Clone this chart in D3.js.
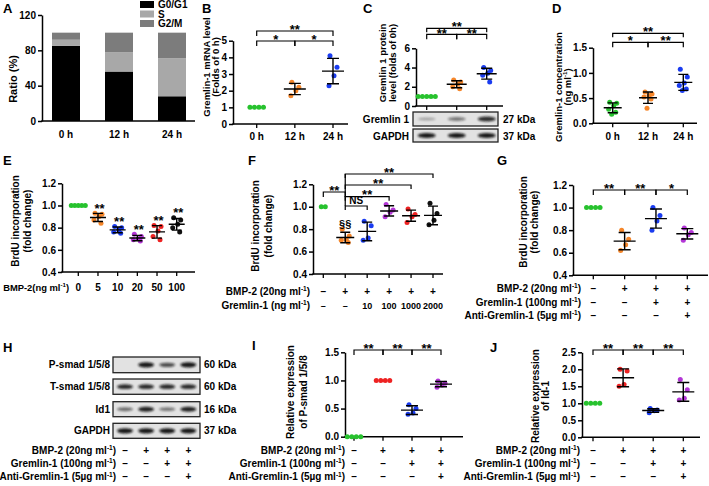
<!DOCTYPE html>
<html><head><meta charset="utf-8">
<script src="https://cdn.jsdelivr.net/npm/d3@7"></script>
<style>body{margin:0;background:#fff}svg{display:block}</style>
</head><body><svg id="c" width="709" height="486"></svg>
<script>
// ---------------- DATA ----------------
const aCategories = ["0 h","12 h","24 h"];
const aG0G1 = [85,56,28];
const aS = [7,22,43];
const aG2M = [8,22,29];
const aLegend = ["G0/G1","S","G2/M"];
const aTicks = [0,40,80,120];

const bCategories = ["0 h","12 h","24 h"];
const bValues = [[1,1,1,1],[2.5,2.2,2.0,1.7],[4.1,3.4,2.9,2.3]];
const bTicks = [0,1,2,3,4,5];
const bTitle = ["Gremlin-1 mRNA level","(Folds of 0 h)"];

const cValues = [[1,1,1,1,1],[2.7,2.5,2.3,2.0,1.8],[4.0,3.7,3.4,3.2,2.5]];
const cTicks = [0,2,4,6];
const cTitle = ["Gremlin 1 protein","level (folds of 0h)"];
const cBlotLabels = ["Gremlin 1","GAPDH"];
const cBlotKDa = ["27 kDa","37 kDa"];
const cBlotGremlin = [0.3,0.5,0.85];
const cBlotGAPDH = [0.95,0.95,0.95];

const dCategories = ["0 h","12 h","24 h"];
const dValues = [[0.42,0.40,0.35,0.28,0.22,0.18],[0.62,0.58,0.55,0.52,0.48,0.30],[1.07,0.92,0.80,0.75,0.68,0.65]];
const dTicks = [0,0.5,1.0,1.5];
const dTitle = ["Gremlin-1 concentration","(ng ml^-1)"];

const eCategories = ["0","5","10","20","50","100"];
const eValues = [[1,1,1,1,1],[0.93,0.92,0.90,0.87,0.84],[0.81,0.80,0.78,0.76,0.75],[0.74,0.72,0.70,0.69,0.68],[0.82,0.81,0.77,0.72,0.69],[0.89,0.87,0.83,0.80,0.76]];
const eSignif = ["","**","**","**","**","**"];
const brduTicks = [0.4,0.6,0.8,1.0,1.2];
const brduTitle = ["BrdU incorporation","(fold change)"];

const fBMP2 = ["–","+","+","+","+","+"];
const fGremlin = ["–","–","10","100","1000","2000"];
const fValues = [[1,1],[0.80,0.74,0.71,0.70,0.68],[0.87,0.83,0.72,0.70],[1.02,0.97,0.95,0.91],[0.98,0.93,0.91,0.86],[1.03,0.94,0.88,0.84]];

const treatBMP2 = ["–","+","+","+"];
const treatGremlin = ["–","–","+","+"];
const treatAnti = ["–","–","–","+"];
const treatLabels = ["BMP-2 (20ng ml^-1)","Gremlin-1 (100ng ml^-1)","Anti-Gremlin-1 (5µg ml^-1)"];
const gValues = [[1,1,1,1],[0.80,0.72,0.67,0.62],[1.00,0.93,0.88,0.80],[0.82,0.78,0.76,0.71]];
const gSignif = ["**","**","*"];

const hBlotLabels = ["P-smad 1/5/8","T-smad 1/5/8","Id1","GAPDH"];
const hBlotKDa = ["60 kDa","60 kDa","16 kDa","37 kDa"];
const hPsmad = [0,0.95,0.7,0.95];
const hTsmad = [0.85,0.85,0.85,0.85];
const hId1 = [0.55,0.9,0.5,0.9];
const hGAPDH = [0.95,0.95,0.95,0.95];

const iValues = [[0,0,0,0],[1,1,1,1],[0.57,0.50,0.42,0.40],[0.99,0.95,0.92,0.88]];
const iTicks = [0,0.5,1.0,1.5];
const iTitle = ["Relative expression","of P-smad 1/5/8"];
const jValues = [[1,1,1,1],[2.0,1.95,1.55,1.50],[0.85,0.80,0.78,0.72],[1.70,1.40,1.15,1.10]];
const jTicks = [0,0.5,1.0,1.5,2.0,2.5];
const jTitle = ["Relative expression","of Id-1"];
const ijSignif = ["**","**","**"];

// ---------------- STYLE ----------------
const FONT = '"Liberation Sans", Arial, Helvetica, sans-serif';
const GREEN="#27c22e", ORANGE="#f5862a", BLUE="#1a3cf0", PURPLE="#b336d6", RED="#ee2222", BLACK="#111";

const svg = d3.select("#c").attr("font-family",FONT).attr("font-weight","bold");
const defs = svg.append("defs");
defs.append("filter").attr("id","blur").attr("x","-20%").attr("y","-100%").attr("width","140%").attr("height","300%")
  .append("feGaussianBlur").attr("stdDeviation",0.8);

function txt(g,x,y,t,size,anchor){
  return g.append("text").attr("x",x).attr("y",y).attr("font-size",size).attr("text-anchor",anchor||"start").attr("fill","#000").text(t);
}
function richLabel(g,x,y,s,size,anchor){
  const t = g.append("text").attr("x",x).attr("y",y).attr("font-size",size).attr("text-anchor",anchor||"start").attr("fill","#000");
  const parts = s.split("^-1");
  parts.forEach((p,i)=>{
    if(i>0){
      t.append("tspan").attr("font-size",size*0.65).attr("dy",-size*0.38).text("-1");
      t.append("tspan").attr("dy",size*0.38).text(p.length?p:"\u200B");
    } else t.append("tspan").text(p);
  });
  return t;
}
function yTitle(lines,xs,cy,size){
  lines.forEach((l,i)=>{
    const g = svg.append("g").attr("transform",`translate(${xs[i]},${cy}) rotate(-90)`);
    richLabel(g,0,0,l,size,"middle");
  });
}
function panelLabel(t,x,y){ txt(svg,x,y,t,13,"start"); }
function yAxis(x,y,ticks,fmt){
  const a = svg.append("g").attr("transform",`translate(${x},0)`)
    .call(d3.axisLeft(y).tickValues(ticks).tickFormat(fmt).tickSize(4).tickSizeOuter(0).tickPadding(2));
  a.attr("font-family",FONT).attr("font-size",10).attr("font-weight","bold");
  a.select(".domain").attr("stroke","#000").attr("stroke-width",1.5);
  a.selectAll(".tick line").attr("stroke","#000").attr("stroke-width",1.5);
  a.selectAll(".tick text").attr("fill","#000");
}
function xAxis(x0,x1,yv,ticksX){
  svg.append("line").attr("x1",x0-0.75).attr("x2",x1).attr("y1",yv).attr("y2",yv).attr("stroke","#000").attr("stroke-width",1.5);
  (ticksX||[]).forEach(tx=>svg.append("line").attr("x1",tx).attr("x2",tx).attr("y1",yv).attr("y2",yv+4).attr("stroke","#000").attr("stroke-width",1.3));
}
const jitter = [-3,4,1,-4,3,-1];
function offsets(vals,sp){
  const n = vals.length;
  if(vals.every(v=>v===vals[0])) return vals.map((v,i)=>(i-(n-1)/2)*sp);
  return vals.map((v,i)=>jitter[i%jitter.length]);
}
function scatter(xs,y,groups,colors,o){
  const r = o.r||2.5;
  groups.forEach((vals,i)=>{
    const cx = xs(i);
    const offs = offsets(vals,o.sp||4.5);
    vals.forEach((v,k)=>svg.append("circle").attr("cx",cx+offs[k]).attr("cy",y(v)).attr("r",r).attr("fill",colors[i]));
    if(!vals.every(v=>v===vals[0])){
      const m=d3.mean(vals), sd=d3.deviation(vals);
      svg.append("path").attr("fill","none").attr("stroke","#000").attr("stroke-width",1.4)
        .attr("d",`M${cx-o.mw/2},${y(m)}H${cx+o.mw/2}M${cx},${y(m+sd)}V${y(m-sd)}M${cx-o.cw/2},${y(m+sd)}H${cx+o.cw/2}M${cx-o.cw/2},${y(m-sd)}H${cx+o.cw/2}`);
    }
  });
}
function bracket(x1,x2,yb,leg,label,dy,size){
  svg.append("path").attr("d",`M${x1},${yb+leg}V${yb}H${x2}V${yb+leg}`).attr("fill","none").attr("stroke","#000").attr("stroke-width",1.2);
  if(label) txt(svg,(x1+x2)/2,yb+(dy===undefined?2.5:dy),label,size||13,"middle");
}
function blot(x0,x1,y0,y1,lanes,intens,bw){
  svg.append("rect").attr("x",x0).attr("y",y0).attr("width",x1-x0).attr("height",y1-y0).attr("fill","#e2e2e2").attr("stroke","#222").attr("stroke-width",1.3);
  intens.forEach((v,i)=>{
    if(v>0) svg.append("ellipse").attr("cx",lanes(i)).attr("cy",(y0+y1)/2).attr("rx",bw/2).attr("ry",1.1+1.6*v)
      .attr("fill","#111").attr("opacity",v).attr("filter","url(#blur)");
  });
}
function treatRows(xs,rightX,baselines,labels,rows,valSize){
  labels.forEach((l,r)=>{
    richLabel(svg,rightX,baselines[r],l,10,"end");
    rows[r].forEach((s,i)=>txt(svg,xs(i),baselines[r],s,(valSize&&valSize[r])||10,"middle"));
  });
}
const idx = n=>d3.range(n);

// ---------------- PANEL A ----------------
panelLabel("A",3,13);
const aY = d3.scaleLinear().domain([0,120]).range([121,15]);
const aX = d3.scalePoint().domain(aCategories).range([66,172]);
const aRows = aCategories.map((c,i)=>({cat:c,G0G1:aG0G1[i],S:aS[i],G2M:aG2M[i]}));
const aStack = d3.stack().keys(["G0G1","S","G2M"])(aRows);
const aColors = ["#000","#a8a8a8","#7c7c7c"];
aStack.forEach((layer,li)=>layer.forEach(d=>svg.append("rect").attr("x",aX(d.data.cat)-14).attr("width",28)
  .attr("y",aY(d[1])).attr("height",aY(d[0])-aY(d[1])).attr("fill",aColors[li])));
yAxis(42,aY,aTicks,d3.format("d"));
xAxis(42,195,121);
aCategories.forEach(c=>txt(svg,aX(c),138,c,10,"middle"));
aLegend.forEach((l,i)=>{
  svg.append("rect").attr("x",140).attr("y",1+i*9.5).attr("width",14).attr("height",7).attr("fill",aColors[i]);
  txt(svg,158,8+i*9.5,l,10,"start");
});
yTitle(["Ratio (%)"],[17],79,11);

// ---------------- PANEL B ----------------
panelLabel("B",202,13);
const bY = d3.scaleLinear().domain([0,5]).range([124,40.7]);
const bX = d3.scalePoint().domain(idx(3)).range([256.7,333]);
yAxis(233,bY,bTicks,d3.format("d"));
xAxis(233,348,124,idx(3).map(bX));
scatter(bX,bY,bValues,[GREEN,ORANGE,BLUE],{mw:22,cw:12,sp:4.5});
bCategories.forEach((c,i)=>txt(svg,bX(i),140,c,10,"middle"));
bracket(bX(0),bX(1),41,5,"*");
bracket(bX(1),bX(2),41,5,"*");
bracket(bX(0),bX(2),31,5,"**");
yTitle(bTitle,[209.5,219],67,9.5);

// ---------------- PANEL C ----------------
panelLabel("C",363,13);
const cY = d3.scaleLinear().domain([0,6]).range([106,48.3]);
const cX = d3.scalePoint().domain(idx(3)).range([426.7,486.7]);
yAxis(416,cY,cTicks,d3.format("d"));
xAxis(416,503,106,idx(3).map(cX));
scatter(cX,cY,cValues,[GREEN,ORANGE,BLUE],{mw:20,cw:11,sp:4.3});
bracket(cX(0),cX(2),28.3,4,"**");
bracket(cX(0),cX(1),34.3,5,"**",4);
bracket(cX(1),cX(2),34.3,5,"**",4);
yTitle(cTitle,[386,396],63,9.5);
blot(413,498,112,126,cX,cBlotGremlin,18);
blot(413,498,129,142,cX,cBlotGAPDH,18);
txt(svg,409,123,cBlotLabels[0],10,"end");
txt(svg,409,139.5,cBlotLabels[1],10,"end");
txt(svg,503,123,cBlotKDa[0],10,"start");
txt(svg,503,139.5,cBlotKDa[1],10,"start");

// ---------------- PANEL D ----------------
panelLabel("D",552,13);
const dY = d3.scaleLinear().domain([0,1.5]).range([123.3,47.7]);
const dX = d3.scalePoint().domain(idx(3)).range([612.7,683.3]);
yAxis(593,dY,dTicks,d3.format(".1f"));
xAxis(593,697,123.3,idx(3).map(dX));
scatter(dX,dY,dValues,[GREEN,ORANGE,BLUE],{mw:18,cw:10,sp:4});
dCategories.forEach((c,i)=>txt(svg,dX(i),140,c,10,"middle"));
bracket(dX(0),dX(2),33.3,4,"**");
bracket(dX(0),dX(1),42.3,5,"*");
bracket(dX(1),dX(2),42.3,5,"**");
yTitle(dTitle,[561.5,571],87,9.5);

// ---------------- PANEL E ----------------
panelLabel("E",3,165);
const eY = d3.scaleLinear().domain([0.4,1.2]).range([272,183.3]);
const eX = d3.scalePoint().domain(idx(6)).range([78.3,176.7]);
yAxis(62,eY,brduTicks,d3.format(".1f"));
xAxis(62,195,272,idx(6).map(eX));
scatter(eX,eY,eValues,[GREEN,ORANGE,BLUE,PURPLE,RED,BLACK],{mw:16,cw:10,sp:3.5});
eCategories.forEach((c,i)=>txt(svg,eX(i),290.5,c,10,"middle"));
richLabel(svg,69,290.5,"BMP-2(ng ml^-1)",9.4,"end");
eSignif.forEach((s,i)=>{ if(s) txt(svg,eX(i)+1.5,eY(d3.max(eValues[i]))-0.5,s,13,"middle"); });
yTitle(brduTitle,[19,31],221,10);

// ---------------- PANEL F ----------------
panelLabel("F",248,165);
const fY = d3.scaleLinear().domain([0.4,1.2]).range([274,184.3]);
const fX = d3.scalePoint().domain(idx(6)).range([323.3,433]);
yAxis(313,fY,brduTicks,d3.format(".1f"));
xAxis(313,443,274,idx(6).map(fX));
scatter(fX,fY,fValues,[GREEN,ORANGE,BLUE,PURPLE,RED,BLACK],{mw:18,cw:10,sp:4});
treatRows(fX,310,[295,308.5],["BMP-2 (20ng ml^-1)","Gremlin-1 (ng ml^-1)"],[fBMP2,fGremlin],[10,9]);
bracket(fX(0),fX(1),192,5,"**");
svg.append("line").attr("x1",fX(1)).attr("x2",fX(1)).attr("y1",174).attr("y2",206).attr("stroke","#000").attr("stroke-width",1.2);
bracket(fX(1),fX(2),206,4,"NS",-2,10);
bracket(fX(1),fX(3),196.7,4,"**",2.5);
bracket(fX(1),fX(4),185,4,"**",2.5);
bracket(fX(1),fX(5),174,4,"**",2.5);
txt(svg,fX(1),227.5,"§§",11,"middle");
yTitle(brduTitle,[259,272],226,10);

// ---------------- PANEL G ----------------
panelLabel("G",497,165);
const gY = d3.scaleLinear().domain([0.4,1.2]).range([275.3,185]);
const gX = d3.scalePoint().domain(idx(4)).range([593.3,687.3]);
yAxis(573,gY,brduTicks,d3.format(".1f"));
xAxis(573,708,275.3,idx(4).map(gX));
scatter(gX,gY,gValues,[GREEN,ORANGE,BLUE,PURPLE],{mw:22,cw:12,sp:4.5});
treatRows(gX,581,[291.8,305.8,319.2],treatLabels,[treatBMP2,treatGremlin,treatAnti]);
gSignif.forEach((s,i)=>bracket(gX(i),gX(i+1),190,5,s));
yTitle(brduTitle,[527,538],222,10);

// ---------------- PANEL H ----------------
panelLabel("H",3,352);
const hX = d3.scalePoint().domain(idx(4)).range([125,188.3]);
const hRowsY = [[357,372.7],[379,394.3],[401.7,416.7],[423.3,438.3]];
[hPsmad,hTsmad,hId1,hGAPDH].forEach((r,k)=>{
  blot(113,200,hRowsY[k][0],hRowsY[k][1],hX,r,16);
  const mid=(hRowsY[k][0]+hRowsY[k][1])/2;
  txt(svg,110,mid+3.5,hBlotLabels[k],10,"end");
  txt(svg,204,mid+3.5,hBlotKDa[k],10,"start");
});
treatRows(hX,116,[453.5,467,480.3],treatLabels,[treatBMP2,treatGremlin,treatAnti]);

// ---------------- PANEL I ----------------
panelLabel("I",252,350);
const iY = d3.scaleLinear().domain([0,1.5]).range([436.7,352.3]);
const iX = d3.scalePoint().domain(idx(4)).range([354,441]);
yAxis(345,iY,iTicks,d3.format(".1f"));
xAxis(345,463,436.7,idx(4).map(iX));
scatter(iX,iY,iValues,[GREEN,RED,BLUE,PURPLE],{mw:22,cw:12,sp:4.5});
treatRows(iX,345,[453.5,467,480.3],treatLabels,[treatBMP2,treatGremlin,treatAnti]);
ijSignif.forEach((s,i)=>bracket(iX(i),iX(i+1),350,5,s));
yTitle(iTitle,[294,307],392,10);

// ---------------- PANEL J ----------------
panelLabel("J",490,352);
const jY = d3.scaleLinear().domain([0,2.5]).range([437.3,352.3]);
const jX = d3.scalePoint().domain(idx(4)).range([593,683.3]);
yAxis(582,jY,jTicks,d3.format(".1f"));
xAxis(582,700,437.3,idx(4).map(jX));
scatter(jX,jY,jValues,[GREEN,RED,BLUE,PURPLE],{mw:22,cw:12,sp:4.5});
treatRows(jX,580,[453.5,467,480.3],treatLabels,[treatBMP2,treatGremlin,treatAnti]);
ijSignif.forEach((s,i)=>bracket(jX(i),jX(i+1),350,5,s));
yTitle(jTitle,[539,549],396,10);
</script></body></html>
